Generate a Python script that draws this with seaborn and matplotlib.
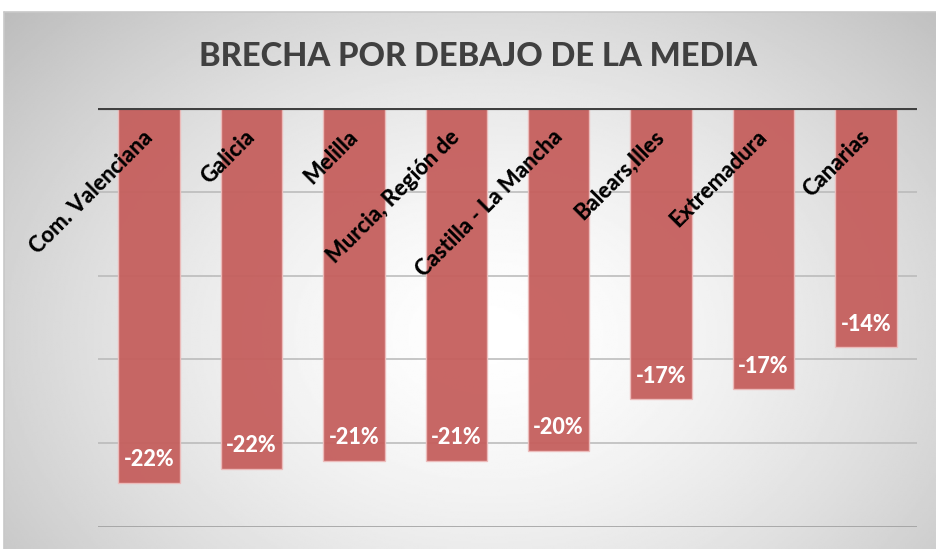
import numpy as np
import pandas as pd
import matplotlib
matplotlib.use("Agg")
import matplotlib.pyplot as plt
import seaborn as sns

categories = ["Com. Valenciana", "Galicia", "Melilla", "Murcia, Región de",
              "Castilla - La Mancha", "Balears,Illes", "Extremadura", "Canarias"]
values = [-22.36, -21.53, -21.05, -21.05, -20.44, -17.37, -16.77, -14.27]
title = "BRECHA POR DEBAJO DE LA MEDIA"
grid_ticks = [-5, -10, -15, -20, -25]

sns.set_theme(style="white")
fam = ["Lato", "DejaVu Sans"]
plt.rcParams["font.family"] = fam

W, H = 936, 549
fig = plt.figure(figsize=(W / 100, H / 100), dpi=100)
fig.patch.set_facecolor("white")

# background gradient panel
bg = fig.add_axes([4 / W, 0, 1 - 4 / W, (H - 12) / H], zorder=0)
ny, nx = 300, 500
yy, xx = np.mgrid[0:ny, 0:nx]
cx, cy = 0.52 * nx, 0.6 * ny
d = np.sqrt(((xx - cx) / (0.62 * nx)) ** 2 + ((yy - cy) / (0.8 * ny)) ** 2)
g = 1.0 - 0.22 * np.clip(d, 0, 1.2) ** 1.5
bg.imshow(g, cmap="gray", vmin=0, vmax=1, aspect="auto", extent=[0, 1, 0, 1], origin="upper")
bg.set_axis_off()
bg.plot([0, 1], [1, 1], color="#c8c8c8", lw=1.2, transform=bg.transAxes, clip_on=False)
bg.plot([0, 0], [0, 1], color="#c8c8c8", lw=1.2, transform=bg.transAxes, clip_on=False)

ax = fig.add_axes([98 / W, 1 - 527 / H, (917 - 98) / W, (527 - 108) / H], zorder=1)
ax.patch.set_alpha(0)

df = pd.DataFrame({"cat": categories, "val": values})
sns.barplot(data=df, x="cat", y="val", order=categories, color="#C55F5D", alpha=0.95,
            saturation=1, width=0.6, edgecolor="#EDBDBC", linewidth=1.0, ax=ax, zorder=2)

ax.set_ylim(-25, 0)
ax.set_xlim(-0.5, len(categories) - 0.5)
for t in grid_ticks:
    ax.axhline(t, color="#b8b8b8" if t != -25 else "#9a9a9a", lw=1.1, zorder=1)
ax.axhline(0, color="#404040", lw=3, zorder=3)

for s in ax.spines.values():
    s.set_visible(False)
ax.set_xticks([])
ax.set_yticks([])
ax.set_xlabel("")
ax.set_ylabel("")

for i, (c, v) in enumerate(zip(categories, values)):
    ax.text(i - 0.07, -1.1, c, rotation=45, rotation_mode="anchor", ha="right", va="top",
            fontsize=15.8, fontweight="black", color="black", zorder=4)
    ax.text(i, v + 1.37, f"{round(v)}%", ha="center", va="center", fontsize=15.5,
            fontweight="black", color="white", zorder=4)

fig.text(478 / W, 1 - 57 / H, title, ha="center", va="center", fontsize=23.5,
         fontweight="black", color="#404040")

fig.savefig("out.png", dpi=100)
